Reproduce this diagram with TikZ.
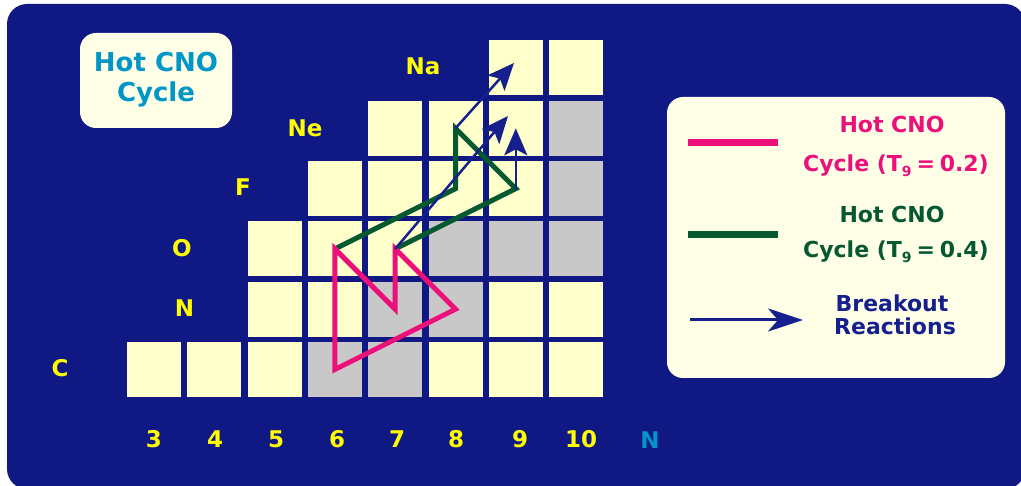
\documentclass[tikz,border=0pt]{standalone}
\usepackage{fontspec}
\setmainfont{DejaVu Sans}
\usetikzlibrary{arrows.meta}
\definecolor{bgnavy}{RGB}{16,24,132}
\definecolor{cellcream}{RGB}{255,255,204}
\definecolor{cellgrey}{RGB}{200,200,200}
\definecolor{boxcream}{RGB}{255,255,232}
\definecolor{hotpink}{RGB}{236,16,122}
\definecolor{hotgreen}{RGB}{6,88,48}
\definecolor{arrowblue}{RGB}{22,32,140}
\definecolor{labyellow}{RGB}{255,255,0}
\definecolor{teal}{RGB}{0,150,200}
\begin{document}
\begin{tikzpicture}[x=1pt,y=-1pt,
  cell/.style={minimum width=54pt, minimum height=55pt, inner sep=0pt, outer sep=0pt},
  warmcycle/.style={draw=hotpink, line width=5pt, line join=miter},
  hotcycle/.style={draw=hotgreen, line width=5pt, line join=miter},
  breakout/.style={draw=arrowblue, line width=2.5pt, -{Stealth[length=27pt,width=23pt,inset=6pt]}},
  elem/.style={text=labyellow, font=\fontsize{23}{23}\selectfont\bfseries, anchor=base, inner sep=0pt},
  legtext/.style={font=\fontsize{22}{22}\selectfont\bfseries, anchor=base, inner sep=0pt},
  titletext/.style={text=teal, font=\fontsize{26}{26}\selectfont\bfseries, anchor=base, inner sep=0pt},
  panel/.style={fill=boxcream, rounded corners=16pt}]
\useasboundingbox (0,0) rectangle (1021,486);
\fill[white] (0,0) rectangle (1021,486);
\fill[bgnavy, rounded corners=20pt] (7,4) rectangle (1025,489);
% title box
\fill[panel] (80,33) rectangle (232,128);
\node[titletext] (title1) at (156,72) {Hot CNO};
\node[titletext] (title2) at (156,102) {Cycle};
% cells
\foreach \n/\z/\c in {3/6/cellcream,4/6/cellcream,5/6/cellcream,6/6/cellgrey,7/6/cellgrey,8/6/cellcream,9/6/cellcream,10/6/cellcream,
  5/7/cellcream,6/7/cellcream,7/7/cellgrey,8/7/cellgrey,9/7/cellcream,10/7/cellcream,
  5/8/cellcream,6/8/cellcream,7/8/cellcream,8/8/cellgrey,9/8/cellgrey,10/8/cellgrey,
  6/9/cellcream,7/9/cellcream,8/9/cellcream,9/9/cellcream,10/9/cellgrey,
  7/10/cellcream,8/10/cellcream,9/10/cellcream,10/10/cellgrey,
  9/11/cellcream,10/11/cellcream}
  \node[cell, fill=\c] (c-\n-\z) at ({154+(\n-3)*60.3},{369.5-(\z-6)*60.3}) {};
% element labels
\node[elem] (lC) at (60,377) {C};
\node[elem] (lN) at (184.5,317) {N};
\node[elem] (lO) at (182,256.5) {O};
\node[elem] (lF) at (243,196) {F};
\node[elem] (lNe) at (305,137) {Ne};
\node[elem] (lNa) at (423,75) {Na};
% neutron numbers
\foreach \n/\x in {3/154,4/215,5/276,6/337,7/397,8/456,9/520,10/581}
  \node[elem] (n\n) at (\x,448) {\n};
\node[elem, text=teal] (axisN) at (650,449) {N};
% cycles
\draw[hotcycle] (c-6-8.center) -- (c-8-9.center) -- (c-8-10.center) -- (c-9-9.center) -- (c-7-8.center);
\draw[warmcycle] (c-6-8.center) -- (c-7-7.center) -- (c-7-8.center) -- (c-8-7.center) -- (c-6-6.center) -- cycle;
% breakout
\coordinate (t1) at (514,63);
\coordinate (t2) at (508,116);
\draw[breakout] (c-8-10.center) -- (t1);
\draw[breakout] (c-7-8.center) -- (t2);
\draw[breakout] (c-9-9.center) -- (c-9-10.center);
% legend
\fill[panel] (667,97) rectangle (1005,378);
\coordinate (lp1) at (688,143); \coordinate (lp2) at (778,143);
\coordinate (lg1) at (688,235); \coordinate (lg2) at (778,235);
\coordinate (la1) at (690,320); \coordinate (la2) at (803,320);
\draw[draw=hotpink, line width=7pt] (lp1) -- (lp2);
\draw[draw=hotgreen, line width=7pt] (lg1) -- (lg2);
\draw[draw=arrowblue, line width=3pt, -{Stealth[length=35pt,width=23pt,inset=10pt]}] (la1) -- (la2);
\node[legtext, text=hotpink] (lt1) at (892,133) {Hot CNO};
\node[legtext, text=hotpink] (lt2) at (896,172) {Cycle (T\raisebox{-0.35ex}{\fontsize{14}{14}\selectfont 9}\hspace{0.22em}=\hspace{0.22em}0.2)};
\node[legtext, text=hotgreen] (lt3) at (892,223) {Hot CNO};
\node[legtext, text=hotgreen] (lt4) at (896,258) {Cycle (T\raisebox{-0.35ex}{\fontsize{14}{14}\selectfont 9}\hspace{0.22em}=\hspace{0.22em}0.4)};
\node[legtext, text=arrowblue] (lt5) at (892,312) {Breakout};
\node[legtext, text=arrowblue] (lt6) at (895,335) {Reactions};
\end{tikzpicture}
\end{document}
